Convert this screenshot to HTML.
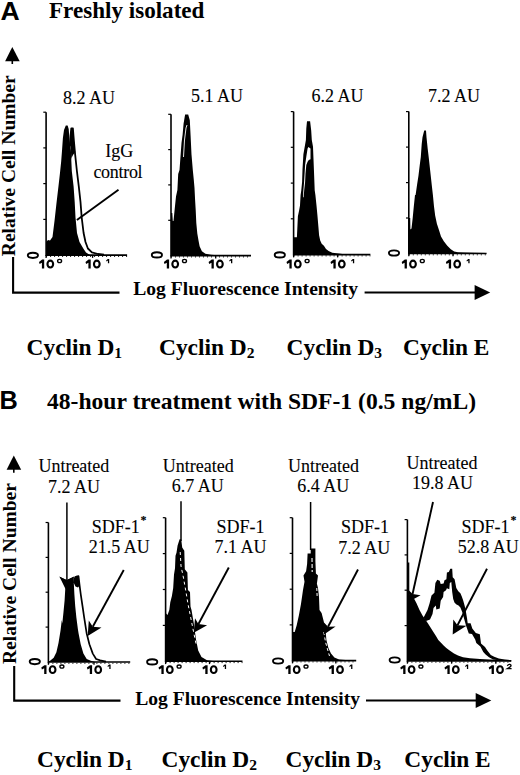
<!DOCTYPE html>
<html><head><meta charset="utf-8"><title>Figure</title>
<style>html,body{margin:0;padding:0;background:#fff;}svg{display:block;}</style>
</head><body>
<svg width="520" height="775" viewBox="0 0 520 775">
<rect width="520" height="775" fill="#fff"/>
<text x="0.6" y="19.9" font-family='"Liberation Sans", sans-serif' font-weight="bold" font-size="26.6">A</text>
<text x="49" y="18" font-family='"Liberation Serif", serif' font-weight="bold" font-size="23.1">Freshly isolated</text>
<text x="-0.6" y="409.4" font-family='"Liberation Sans", sans-serif' font-weight="bold" font-size="25.3">B</text>
<text x="47" y="408.8" font-family='"Liberation Serif", serif' font-weight="bold" font-size="23.6">48-hour treatment with SDF-1 (0.5 ng/mL)</text>
<polygon points="5.1,61.3 12.3,47.1 19.7,61.3" fill="#000"/>
<line x1="12.3" y1="60.3" x2="12.3" y2="64" stroke="#000" stroke-width="1.6"/>
<polyline points="13.1,257.0 13.1,292.6 119.5,292.6" fill="none" stroke="#000" stroke-width="2.1"/>
<line x1="364.6" y1="292.6" x2="476.2" y2="292.6" stroke="#000" stroke-width="2"/>
<polygon points="474.6,285.1 490.2,292.6 474.6,299.9" fill="#000"/>
<text x="133.2" y="295" font-family='"Liberation Serif", serif' font-weight="bold" font-size="19.6">Log Fluorescence Intensity</text>
<text transform="translate(14.9,256.2) rotate(-90)" x="0" y="0" font-family='"Liberation Serif", serif' font-weight="bold" font-size="19.5">Relative Cell Number</text>
<polygon points="6.6,469.8 13.8,455.4 21.2,469.8" fill="#000"/>
<line x1="13.8" y1="468.8" x2="13.8" y2="472.7" stroke="#000" stroke-width="1.6"/>
<polyline points="14.2,666.0 14.2,700.6 120.5,700.6" fill="none" stroke="#000" stroke-width="2.1"/>
<line x1="366" y1="700.6" x2="477.3" y2="700.6" stroke="#000" stroke-width="2"/>
<polygon points="475.7,693.1 491.3,700.6 475.7,707.9" fill="#000"/>
<text x="135.2" y="705" font-family='"Liberation Serif", serif' font-weight="bold" font-size="19.6">Log Fluorescence Intensity</text>
<text transform="translate(16.2,664) rotate(-90)" x="0" y="0" font-family='"Liberation Serif", serif' font-weight="bold" font-size="19.5">Relative Cell Number</text>
<line x1="46.1" y1="112.2" x2="46.1" y2="255.9" stroke="#000" stroke-width="1.6"/>
<line x1="43.300000000000004" y1="112.2" x2="46.1" y2="112.2" stroke="#000" stroke-width="1.2"/>
<line x1="43.300000000000004" y1="147.9" x2="46.1" y2="147.9" stroke="#000" stroke-width="1.2"/>
<line x1="43.300000000000004" y1="183.6" x2="46.1" y2="183.6" stroke="#000" stroke-width="1.2"/>
<line x1="43.300000000000004" y1="219.4" x2="46.1" y2="219.4" stroke="#000" stroke-width="1.2"/>
<line x1="46.1" y1="255.1" x2="127.1" y2="255.1" stroke="#000" stroke-width="1.6"/>
<line x1="46.1" y1="256.4" x2="127.1" y2="256.4" stroke="#000" stroke-width="1" stroke-dasharray="1 3"/>
<ellipse cx="32.9" cy="255.35" rx="5.1" ry="2.6" fill="none" stroke="#000" stroke-width="1.9"/>
<line x1="46.1" y1="255.1" x2="46.1" y2="257.9" stroke="#000" stroke-width="1.3"/>
<g transform="translate(39.0,259.6)"><polygon points="0,2.3 3.1,0 5.2,0 5.2,8.9 2.9,8.9 2.9,3.1 0.6,4.3" fill="#000"/><ellipse cx="11.3" cy="4.45" rx="2.85" ry="3.4" fill="none" stroke="#000" stroke-width="2.1"/><ellipse cx="20.6" cy="1.35" rx="2.0" ry="1.6" fill="none" stroke="#000" stroke-width="1.35"/></g>
<line x1="92.6" y1="255.1" x2="92.6" y2="257.9" stroke="#000" stroke-width="1.3"/>
<g transform="translate(85.5,259.6)"><polygon points="0,2.3 3.1,0 5.2,0 5.2,8.9 2.9,8.9 2.9,3.1 0.6,4.3" fill="#000"/><ellipse cx="11.3" cy="4.45" rx="2.85" ry="3.4" fill="none" stroke="#000" stroke-width="2.1"/><polygon points="20.6,0.9 22.3,-0.6 23.7,-0.6 23.7,3.7 22.4,3.7 22.4,0.9 21.0,1.8" fill="#000"/></g>
<polygon points="46.1,255.1 46.1,242.0 48.0,240.0 50.0,240.5 52.5,237.0 54.5,221.0 56.5,203.0 58.5,186.0 60.0,172.7 61.2,161.2 62.1,149.6 62.9,138.0 64.0,130.0 65.8,125.6 67.6,125.6 68.7,129.0 69.8,144.0 70.9,150.0 71.3,160.0 71.8,171.0 73.6,186.5 74.7,202.0 75.5,217.5 77.0,233.0 79.5,242.0 83.3,248.5 86.0,252.5 90.0,255.1" fill="#000"/>
<polyline points="69.8,146.0 70.5,136.0 71.3,128.3 72.9,128.5 73.5,136.0 74.0,142.0 75.2,155.0 76.9,171.0 78.8,186.5 80.5,202.0 81.7,217.5 83.6,233.0 85.5,242.0 87.9,248.5 91.9,252.4 98.0,254.0 104.0,254.6" fill="none" stroke="#000" stroke-width="1.8" stroke-linejoin="round"/>
<polygon points="69.8,144.0 70.6,133.0 71.3,128.3 72.9,128.5 73.5,136.0 74.2,143.0 75.2,152.0 73.0,155.0 71.5,158.0 71.3,160.0 70.9,150.0" fill="#000"/>
<line x1="118.5" y1="189.7" x2="76.9" y2="220" stroke="#000" stroke-width="1.9"/>
<line x1="171.0" y1="114.3" x2="171.0" y2="256.4" stroke="#000" stroke-width="1.6"/>
<line x1="168.2" y1="114.3" x2="171.0" y2="114.3" stroke="#000" stroke-width="1.2"/>
<line x1="168.2" y1="149.6" x2="171.0" y2="149.6" stroke="#000" stroke-width="1.2"/>
<line x1="168.2" y1="184.9" x2="171.0" y2="184.9" stroke="#000" stroke-width="1.2"/>
<line x1="168.2" y1="220.3" x2="171.0" y2="220.3" stroke="#000" stroke-width="1.2"/>
<line x1="171.0" y1="255.6" x2="251" y2="255.6" stroke="#000" stroke-width="1.6"/>
<line x1="171.0" y1="256.9" x2="251" y2="256.9" stroke="#000" stroke-width="1" stroke-dasharray="1 3"/>
<ellipse cx="156.9" cy="254.9" rx="5.1" ry="2.6" fill="none" stroke="#000" stroke-width="1.9"/>
<line x1="171.0" y1="255.6" x2="171.0" y2="258.4" stroke="#000" stroke-width="1.3"/>
<g transform="translate(163.9,259.6)"><polygon points="0,2.3 3.1,0 5.2,0 5.2,8.9 2.9,8.9 2.9,3.1 0.6,4.3" fill="#000"/><ellipse cx="11.3" cy="4.45" rx="2.85" ry="3.4" fill="none" stroke="#000" stroke-width="2.1"/><ellipse cx="20.6" cy="1.35" rx="2.0" ry="1.6" fill="none" stroke="#000" stroke-width="1.35"/></g>
<line x1="215.7" y1="255.6" x2="215.7" y2="258.4" stroke="#000" stroke-width="1.3"/>
<g transform="translate(208.6,259.6)"><polygon points="0,2.3 3.1,0 5.2,0 5.2,8.9 2.9,8.9 2.9,3.1 0.6,4.3" fill="#000"/><ellipse cx="11.3" cy="4.45" rx="2.85" ry="3.4" fill="none" stroke="#000" stroke-width="2.1"/><polygon points="20.6,0.9 22.3,-0.6 23.7,-0.6 23.7,3.7 22.4,3.7 22.4,0.9 21.0,1.8" fill="#000"/></g>
<polygon points="171.0,255.6 171.0,213.0 172.3,213.0 172.8,221.0 173.5,221.0 174.8,208.0 176.0,196.5 177.4,190.0 178.2,174.0 179.5,170.0 180.5,156.5 181.5,143.0 182.6,134.8 183.6,123.4 185.1,114.6 188.2,114.6 189.8,120.3 190.6,135.8 191.5,154.4 192.8,170.0 193.8,180.0 194.5,188.0 195.1,200.0 195.7,210.0 196.3,223.0 197.3,233.5 198.5,240.4 199.6,246.2 201.9,251.3 205.4,253.7 211.2,254.8 217.0,255.2 217.0,255.6" fill="#000"/>
<polyline points="183.5,157.0 184.5,140.0 186.0,128.0 187.0,125.0" fill="none" stroke="#fff" stroke-width="0.9" stroke-linejoin="round"/>
<line x1="293.6" y1="111.6" x2="293.6" y2="255.4" stroke="#000" stroke-width="1.6"/>
<line x1="290.8" y1="111.6" x2="293.6" y2="111.6" stroke="#000" stroke-width="1.2"/>
<line x1="290.8" y1="147.3" x2="293.6" y2="147.3" stroke="#000" stroke-width="1.2"/>
<line x1="290.8" y1="183.1" x2="293.6" y2="183.1" stroke="#000" stroke-width="1.2"/>
<line x1="290.8" y1="218.8" x2="293.6" y2="218.8" stroke="#000" stroke-width="1.2"/>
<line x1="293.6" y1="254.6" x2="370.4" y2="254.6" stroke="#000" stroke-width="1.6"/>
<line x1="293.6" y1="255.9" x2="370.4" y2="255.9" stroke="#000" stroke-width="1" stroke-dasharray="1 3"/>
<ellipse cx="279.8" cy="254.9" rx="5.1" ry="2.6" fill="none" stroke="#000" stroke-width="1.9"/>
<line x1="293.6" y1="254.6" x2="293.6" y2="257.4" stroke="#000" stroke-width="1.3"/>
<g transform="translate(286.5,259.6)"><polygon points="0,2.3 3.1,0 5.2,0 5.2,8.9 2.9,8.9 2.9,3.1 0.6,4.3" fill="#000"/><ellipse cx="11.3" cy="4.45" rx="2.85" ry="3.4" fill="none" stroke="#000" stroke-width="2.1"/><ellipse cx="20.6" cy="1.35" rx="2.0" ry="1.6" fill="none" stroke="#000" stroke-width="1.35"/></g>
<line x1="337.6" y1="254.6" x2="337.6" y2="257.4" stroke="#000" stroke-width="1.3"/>
<g transform="translate(330.5,259.6)"><polygon points="0,2.3 3.1,0 5.2,0 5.2,8.9 2.9,8.9 2.9,3.1 0.6,4.3" fill="#000"/><ellipse cx="11.3" cy="4.45" rx="2.85" ry="3.4" fill="none" stroke="#000" stroke-width="2.1"/><polygon points="20.6,0.9 22.3,-0.6 23.7,-0.6 23.7,3.7 22.4,3.7 22.4,0.9 21.0,1.8" fill="#000"/></g>
<polygon points="293.6,254.6 293.6,237.3 295.8,237.3 296.9,237.3 297.4,226.7 297.9,216.2 299.0,210.9 300.0,205.6 300.6,195.0 301.3,190.3 302.1,181.9 302.5,169.3 303.4,154.2 305.9,140.0 306.3,128.4 307.0,121.2 310.1,121.2 311.2,130.5 311.8,140.0 313.0,146.7 313.9,169.3 314.7,190.3 315.4,195.0 316.5,205.6 317.5,216.2 318.4,226.7 319.1,235.2 320.2,240.5 321.7,243.7 323.9,245.8 326.0,249.0 328.6,251.1 332.3,252.7 336.6,253.2 340.8,253.7 345.0,254.6" fill="#000"/>
<polygon points="308.4,147.1 310.5,148.4 310.5,159.3 308.8,160.1 307.6,161.8 306.3,165.1 305.5,173.5 305.1,181.9 304.2,190.3 303.6,197.5 303.0,197.0 303.4,190.3 304.1,181.9 304.6,173.5 305.1,165.1 306.3,156.8 307.6,148.4" fill="#fff"/>
<line x1="408.8" y1="111.6" x2="408.8" y2="254.3" stroke="#000" stroke-width="1.6"/>
<line x1="406.0" y1="111.6" x2="408.8" y2="111.6" stroke="#000" stroke-width="1.2"/>
<line x1="406.0" y1="147.1" x2="408.8" y2="147.1" stroke="#000" stroke-width="1.2"/>
<line x1="406.0" y1="182.6" x2="408.8" y2="182.6" stroke="#000" stroke-width="1.2"/>
<line x1="406.0" y1="218.0" x2="408.8" y2="218.0" stroke="#000" stroke-width="1.2"/>
<line x1="408.8" y1="253.5" x2="486.6" y2="253.5" stroke="#000" stroke-width="1.6"/>
<line x1="408.8" y1="254.8" x2="486.6" y2="254.8" stroke="#000" stroke-width="1" stroke-dasharray="1 3"/>
<ellipse cx="394" cy="253" rx="5.1" ry="2.6" fill="none" stroke="#000" stroke-width="1.9"/>
<line x1="408.8" y1="253.5" x2="408.8" y2="256.3" stroke="#000" stroke-width="1.3"/>
<g transform="translate(401.7,259.6)"><polygon points="0,2.3 3.1,0 5.2,0 5.2,8.9 2.9,8.9 2.9,3.1 0.6,4.3" fill="#000"/><ellipse cx="11.3" cy="4.45" rx="2.85" ry="3.4" fill="none" stroke="#000" stroke-width="2.1"/><ellipse cx="20.6" cy="1.35" rx="2.0" ry="1.6" fill="none" stroke="#000" stroke-width="1.35"/></g>
<line x1="453.0" y1="253.5" x2="453.0" y2="256.3" stroke="#000" stroke-width="1.3"/>
<g transform="translate(445.9,259.6)"><polygon points="0,2.3 3.1,0 5.2,0 5.2,8.9 2.9,8.9 2.9,3.1 0.6,4.3" fill="#000"/><ellipse cx="11.3" cy="4.45" rx="2.85" ry="3.4" fill="none" stroke="#000" stroke-width="2.1"/><polygon points="20.6,0.9 22.3,-0.6 23.7,-0.6 23.7,3.7 22.4,3.7 22.4,0.9 21.0,1.8" fill="#000"/></g>
<polygon points="408.8,253.5 408.8,218.0 410.2,218.0 410.4,229.6 411.5,228.5 412.7,218.0 413.8,206.5 415.0,195.0 415.6,195.0 417.1,184.6 418.5,175.4 419.6,166.2 420.8,157.0 421.7,144.2 422.5,137.3 424.2,130.4 426.0,130.4 426.5,137.3 427.7,148.8 428.8,158.0 430.2,170.8 431.7,184.6 432.9,195.0 434.0,206.5 435.2,215.8 436.9,223.8 439.2,230.8 441.0,236.5 443.8,241.2 447.3,245.8 450.8,249.2 454.2,251.5 458.0,252.3 465.0,252.6 475.0,252.8 486.6,253.0" fill="#000"/>
<text x="63.0" y="103.9" font-family='"Liberation Serif", serif' font-size="18" stroke="#000" stroke-width="0.1">8.2 AU</text>
<text x="191.0" y="102.0" font-family='"Liberation Serif", serif' font-size="18" stroke="#000" stroke-width="0.1">5.1 AU</text>
<text x="311.5" y="101.7" font-family='"Liberation Serif", serif' font-size="18" stroke="#000" stroke-width="0.1">6.2 AU</text>
<text x="428.0" y="101.7" font-family='"Liberation Serif", serif' font-size="18" stroke="#000" stroke-width="0.1">7.2 AU</text>
<text x="105.3" y="157.3" font-family='"Liberation Serif", serif' font-size="18" stroke="#000" stroke-width="0.1">IgG</text>
<text x="93.4" y="177.5" font-family='"Liberation Serif", serif' font-size="18" stroke="#000" stroke-width="0.1" letter-spacing="-0.3">control</text>
<text x="26.6" y="355.3" font-family='"Liberation Serif", serif' font-weight="bold" font-size="23.4">Cyclin D<tspan font-size="15.5" dy="2.4">1</tspan></text>
<text x="159" y="355.3" font-family='"Liberation Serif", serif' font-weight="bold" font-size="23.4">Cyclin D<tspan font-size="15.5" dy="2.4">2</tspan></text>
<text x="286.6" y="355.3" font-family='"Liberation Serif", serif' font-weight="bold" font-size="23.4">Cyclin D<tspan font-size="15.5" dy="2.4">3</tspan></text>
<text x="403" y="355.3" font-family='"Liberation Serif", serif' font-weight="bold" font-size="23.4">Cyclin E</text>
<line x1="48.4" y1="522.5" x2="48.4" y2="662.8" stroke="#000" stroke-width="1.6"/>
<line x1="45.6" y1="522.5" x2="48.4" y2="522.5" stroke="#000" stroke-width="1.2"/>
<line x1="45.6" y1="557.4" x2="48.4" y2="557.4" stroke="#000" stroke-width="1.2"/>
<line x1="45.6" y1="592.2" x2="48.4" y2="592.2" stroke="#000" stroke-width="1.2"/>
<line x1="45.6" y1="627.1" x2="48.4" y2="627.1" stroke="#000" stroke-width="1.2"/>
<line x1="48.4" y1="662.0" x2="130.2" y2="662.0" stroke="#000" stroke-width="1.6"/>
<line x1="48.4" y1="663.3" x2="130.2" y2="663.3" stroke="#000" stroke-width="1" stroke-dasharray="1 3"/>
<ellipse cx="34.8" cy="661.6" rx="5.1" ry="2.6" fill="none" stroke="#000" stroke-width="1.9"/>
<line x1="48.4" y1="662.0" x2="48.4" y2="664.8" stroke="#000" stroke-width="1.3"/>
<g transform="translate(41.3,665.2)"><polygon points="0,2.3 3.1,0 5.2,0 5.2,8.9 2.9,8.9 2.9,3.1 0.6,4.3" fill="#000"/><ellipse cx="11.3" cy="4.45" rx="2.85" ry="3.4" fill="none" stroke="#000" stroke-width="2.1"/><ellipse cx="20.6" cy="1.35" rx="2.0" ry="1.6" fill="none" stroke="#000" stroke-width="1.35"/></g>
<line x1="94.0" y1="662.0" x2="94.0" y2="664.8" stroke="#000" stroke-width="1.3"/>
<g transform="translate(86.9,665.2)"><polygon points="0,2.3 3.1,0 5.2,0 5.2,8.9 2.9,8.9 2.9,3.1 0.6,4.3" fill="#000"/><ellipse cx="11.3" cy="4.45" rx="2.85" ry="3.4" fill="none" stroke="#000" stroke-width="2.1"/><polygon points="20.6,0.9 22.3,-0.6 23.7,-0.6 23.7,3.7 22.4,3.7 22.4,0.9 21.0,1.8" fill="#000"/></g>
<polygon points="48.4,662.0 50.4,660.4 53.7,657.7 56.4,652.3 58.5,642.9 60.5,630.8 61.8,620.0 62.3,623.5 63.5,612.0 64.6,600.4 65.2,590.0 66.0,585.0 59.4,576.7 66.7,580.0 73.8,576.7 73.8,583.0 74.4,594.6 75.2,606.0 76.4,617.7 77.9,629.2 78.6,633.5 80.7,644.2 83.4,653.6 86.7,659.0 90.8,660.8 95.0,662.0" fill="#000"/>
<polyline points="73.8,583.0 75.2,577.0 78.5,576.2 79.6,585.4 80.8,594.6 82.5,606.0 84.2,617.7 86.0,629.2 86.7,633.5 89.4,644.2 92.8,653.6 96.1,659.0 100.2,660.4 106.0,661.6" fill="none" stroke="#000" stroke-width="1.7" stroke-linejoin="round"/>
<line x1="66.9" y1="502.5" x2="66.9" y2="581" stroke="#000" stroke-width="1.5"/>
<polygon points="59.4,576.4 66.8,580.3 74.0,576.4 67.6,590.0 66.0,590.0" fill="#000"/>
<polygon points="73.8,583.0 75.2,577.0 76.5,575.8 78.5,576.0 79.8,585.4 78.0,587.5 75.5,586.5" fill="#000"/>
<line x1="123.75" y1="570" x2="92.77023415608681" y2="626.7174631261656" stroke="#000" stroke-width="1.9"/>
<polygon points="87.7,636.0 88.8,620.5 92.8,626.7 101.5,627.5" fill="#000"/>
<text x="38.4" y="472.1" font-family='"Liberation Serif", serif' font-size="18" stroke="#000" stroke-width="0.1">Untreated</text>
<text x="48.1" y="492.8" font-family='"Liberation Serif", serif' font-size="18" stroke="#000" stroke-width="0.1">7.2 AU</text>
<text x="91.8" y="533.3" font-family='"Liberation Serif", serif' font-size="18" stroke="#000" stroke-width="0.1">SDF-1<tspan font-size="12" font-weight="bold" dx="0.8" dy="-9">*</tspan></text>
<text x="88.8" y="553.3" font-family='"Liberation Serif", serif' font-size="18" stroke="#000" stroke-width="0.1">21.5 AU</text>
<line x1="165.6" y1="517.7" x2="165.6" y2="662.0999999999999" stroke="#000" stroke-width="1.6"/>
<line x1="162.79999999999998" y1="517.7" x2="165.6" y2="517.7" stroke="#000" stroke-width="1.2"/>
<line x1="162.79999999999998" y1="553.6" x2="165.6" y2="553.6" stroke="#000" stroke-width="1.2"/>
<line x1="162.79999999999998" y1="589.5" x2="165.6" y2="589.5" stroke="#000" stroke-width="1.2"/>
<line x1="162.79999999999998" y1="625.4" x2="165.6" y2="625.4" stroke="#000" stroke-width="1.2"/>
<line x1="165.6" y1="661.3" x2="242.5" y2="661.3" stroke="#000" stroke-width="1.6"/>
<line x1="165.6" y1="662.5999999999999" x2="242.5" y2="662.5999999999999" stroke="#000" stroke-width="1" stroke-dasharray="1 3"/>
<ellipse cx="152.2" cy="661.9" rx="5.1" ry="2.6" fill="none" stroke="#000" stroke-width="1.9"/>
<line x1="165.6" y1="661.3" x2="165.6" y2="664.0999999999999" stroke="#000" stroke-width="1.3"/>
<g transform="translate(158.5,665.2)"><polygon points="0,2.3 3.1,0 5.2,0 5.2,8.9 2.9,8.9 2.9,3.1 0.6,4.3" fill="#000"/><ellipse cx="11.3" cy="4.45" rx="2.85" ry="3.4" fill="none" stroke="#000" stroke-width="2.1"/><ellipse cx="20.6" cy="1.35" rx="2.0" ry="1.6" fill="none" stroke="#000" stroke-width="1.35"/></g>
<line x1="209.5" y1="661.3" x2="209.5" y2="664.0999999999999" stroke="#000" stroke-width="1.3"/>
<g transform="translate(202.4,665.2)"><polygon points="0,2.3 3.1,0 5.2,0 5.2,8.9 2.9,8.9 2.9,3.1 0.6,4.3" fill="#000"/><ellipse cx="11.3" cy="4.45" rx="2.85" ry="3.4" fill="none" stroke="#000" stroke-width="2.1"/><polygon points="20.6,0.9 22.3,-0.6 23.7,-0.6 23.7,3.7 22.4,3.7 22.4,0.9 21.0,1.8" fill="#000"/></g>
<polygon points="165.6,661.3 165.6,613.0 167.5,615.0 169.3,610.0 170.3,602.3 171.9,596.1 173.2,587.9 174.0,574.4 175.0,568.2 175.5,555.8 176.5,552.7 177.6,545.5 179.6,539.3 181.2,539.3 182.2,547.6 184.3,550.7 184.8,569.3 187.4,572.4 187.9,589.9 190.0,592.0 190.5,606.4 191.5,610.0 193.9,624.0 196.0,639.4 198.2,650.4 201.5,657.0 207.0,660.2 215.0,661.3" fill="#000"/>
<line x1="181" y1="501.3" x2="181" y2="541" stroke="#000" stroke-width="1.5"/>
<polyline points="180.2,552 181,566 183.5,578 186,592 188,604 190,614 192,624 194,634 196.3,645" fill="none" stroke="#fff" stroke-width="1" stroke-dasharray="3 3"/>
<line x1="228.8" y1="567.5" x2="198.43872844245115" y2="624.0587115872054" stroke="#000" stroke-width="1.9"/>
<polygon points="193.8,632.7 195.0,618.3 198.4,624.1 207.1,625.2" fill="#000"/>
<text x="162.8" y="471.5" font-family='"Liberation Serif", serif' font-size="18" stroke="#000" stroke-width="0.1">Untreated</text>
<text x="171.8" y="492.1" font-family='"Liberation Serif", serif' font-size="18" stroke="#000" stroke-width="0.1">6.7 AU</text>
<text x="216.6" y="532.8" font-family='"Liberation Serif", serif' font-size="18" stroke="#000" stroke-width="0.1">SDF-1</text>
<text x="214.4" y="553.3" font-family='"Liberation Serif", serif' font-size="18" stroke="#000" stroke-width="0.1">7.1 AU</text>
<line x1="292.5" y1="517.7" x2="292.5" y2="661.4" stroke="#000" stroke-width="1.6"/>
<line x1="289.7" y1="517.7" x2="292.5" y2="517.7" stroke="#000" stroke-width="1.2"/>
<line x1="289.7" y1="553.4" x2="292.5" y2="553.4" stroke="#000" stroke-width="1.2"/>
<line x1="289.7" y1="589.2" x2="292.5" y2="589.2" stroke="#000" stroke-width="1.2"/>
<line x1="289.7" y1="624.9" x2="292.5" y2="624.9" stroke="#000" stroke-width="1.2"/>
<line x1="292.5" y1="660.6" x2="356.2" y2="660.6" stroke="#000" stroke-width="1.6"/>
<line x1="292.5" y1="661.9" x2="356.2" y2="661.9" stroke="#000" stroke-width="1" stroke-dasharray="1 3"/>
<ellipse cx="278.1" cy="661" rx="5.1" ry="2.6" fill="none" stroke="#000" stroke-width="1.9"/>
<line x1="292.5" y1="660.6" x2="292.5" y2="663.4" stroke="#000" stroke-width="1.3"/>
<g transform="translate(285.4,665.2)"><polygon points="0,2.3 3.1,0 5.2,0 5.2,8.9 2.9,8.9 2.9,3.1 0.6,4.3" fill="#000"/><ellipse cx="11.3" cy="4.45" rx="2.85" ry="3.4" fill="none" stroke="#000" stroke-width="2.1"/><ellipse cx="20.6" cy="1.35" rx="2.0" ry="1.6" fill="none" stroke="#000" stroke-width="1.35"/></g>
<line x1="335.8" y1="660.6" x2="335.8" y2="663.4" stroke="#000" stroke-width="1.3"/>
<g transform="translate(328.7,665.2)"><polygon points="0,2.3 3.1,0 5.2,0 5.2,8.9 2.9,8.9 2.9,3.1 0.6,4.3" fill="#000"/><ellipse cx="11.3" cy="4.45" rx="2.85" ry="3.4" fill="none" stroke="#000" stroke-width="2.1"/><polygon points="20.6,0.9 22.3,-0.6 23.7,-0.6 23.7,3.7 22.4,3.7 22.4,0.9 21.0,1.8" fill="#000"/></g>
<polygon points="292.5,660.6 292.5,632.0 294.7,631.9 296.7,625.2 298.8,615.8 300.8,605.0 300.9,604.4 302.0,597.1 303.0,589.9 304.5,581.7 303.5,575.5 306.1,571.3 307.1,564.1 307.6,553.6 310.7,553.6 310.7,548.4 315.4,548.4 315.4,561.0 315.9,573.4 318.0,575.5 316.9,583.7 318.0,587.9 319.0,597.1 319.5,610.0 321.6,613.0 323.7,621.2 325.7,632.0 326.4,640.0 328.4,648.0 331.0,653.5 334.4,657.5 339.1,659.5 348.6,660.2 350.0,660.6" fill="#000"/>
<line x1="310.6" y1="502" x2="310.6" y2="550" stroke="#000" stroke-width="1.5"/>
<polyline points="312,558 312.2,572" fill="none" stroke="#fff" stroke-width="1.1" stroke-dasharray="4 2"/>
<polyline points="316.8,588 317.2,598" fill="none" stroke="#fff" stroke-width="1" stroke-dasharray="3 2"/>
<polyline points="323.8,632 325.5,642 328,651 329.5,656" fill="none" stroke="#fff" stroke-width="1" stroke-dasharray="3 2.5"/>
<line x1="358" y1="569.5" x2="328.0361178219662" y2="626.7838923991823" stroke="#000" stroke-width="1.9"/>
<polygon points="324.0,634.5 323.5,622.0 328.0,626.8 335.6,626.6" fill="#000"/>
<text x="288.1" y="471.5" font-family='"Liberation Serif", serif' font-size="18" stroke="#000" stroke-width="0.1">Untreated</text>
<text x="297.3" y="492.1" font-family='"Liberation Serif", serif' font-size="18" stroke="#000" stroke-width="0.1">6.4 AU</text>
<text x="341.0" y="533.3" font-family='"Liberation Serif", serif' font-size="18" stroke="#000" stroke-width="0.1">SDF-1</text>
<text x="338.3" y="553.8" font-family='"Liberation Serif", serif' font-size="18" stroke="#000" stroke-width="0.1">7.2 AU</text>
<line x1="407.4" y1="519.6" x2="407.4" y2="661.6999999999999" stroke="#000" stroke-width="1.6"/>
<line x1="404.59999999999997" y1="519.6" x2="407.4" y2="519.6" stroke="#000" stroke-width="1.2"/>
<line x1="404.59999999999997" y1="554.9" x2="407.4" y2="554.9" stroke="#000" stroke-width="1.2"/>
<line x1="404.59999999999997" y1="590.2" x2="407.4" y2="590.2" stroke="#000" stroke-width="1.2"/>
<line x1="404.59999999999997" y1="625.6" x2="407.4" y2="625.6" stroke="#000" stroke-width="1.2"/>
<line x1="407.4" y1="660.9" x2="511" y2="660.9" stroke="#000" stroke-width="1.6"/>
<line x1="407.4" y1="662.1999999999999" x2="511" y2="662.1999999999999" stroke="#000" stroke-width="1" stroke-dasharray="1 3"/>
<ellipse cx="394.7" cy="660" rx="5.1" ry="2.6" fill="none" stroke="#000" stroke-width="1.9"/>
<line x1="407.4" y1="660.9" x2="407.4" y2="663.6999999999999" stroke="#000" stroke-width="1.3"/>
<g transform="translate(400.3,665.2)"><polygon points="0,2.3 3.1,0 5.2,0 5.2,8.9 2.9,8.9 2.9,3.1 0.6,4.3" fill="#000"/><ellipse cx="11.3" cy="4.45" rx="2.85" ry="3.4" fill="none" stroke="#000" stroke-width="2.1"/><ellipse cx="20.6" cy="1.35" rx="2.0" ry="1.6" fill="none" stroke="#000" stroke-width="1.35"/></g>
<line x1="451.6" y1="660.9" x2="451.6" y2="663.6999999999999" stroke="#000" stroke-width="1.3"/>
<g transform="translate(444.5,665.2)"><polygon points="0,2.3 3.1,0 5.2,0 5.2,8.9 2.9,8.9 2.9,3.1 0.6,4.3" fill="#000"/><ellipse cx="11.3" cy="4.45" rx="2.85" ry="3.4" fill="none" stroke="#000" stroke-width="2.1"/><polygon points="20.6,0.9 22.3,-0.6 23.7,-0.6 23.7,3.7 22.4,3.7 22.4,0.9 21.0,1.8" fill="#000"/></g>
<line x1="495.8" y1="660.9" x2="495.8" y2="663.6999999999999" stroke="#000" stroke-width="1.3"/>
<g transform="translate(488.7,665.2)"><polygon points="0,2.3 3.1,0 5.2,0 5.2,8.9 2.9,8.9 2.9,3.1 0.6,4.3" fill="#000"/><ellipse cx="11.3" cy="4.45" rx="2.85" ry="3.4" fill="none" stroke="#000" stroke-width="2.1"/><path d="M18.6,0.6 Q19.6,-1.1 21.2,-0.8 Q22.8,-0.3 22.1,1.1 Q21.3,2.0 18.8,3.4 L22.9,3.4" fill="none" stroke="#000" stroke-width="1.3"/></g>
<polygon points="407.4,660.9 407.4,562.5 409.3,562.5 409.3,593.8 411.1,595.9 414.0,598.5 416.5,603.3 419.5,610.1 422.5,615.5 425.3,619.6 428.0,623.6 430.7,627.7 433.2,631.8 435.8,635.8 438.3,639.9 441.0,642.8 443.6,645.5 446.3,648.0 450.0,650.7 454.0,653.4 458.0,655.5 463.0,657.3 470.0,658.2 480.0,658.9 490.0,659.5 500.0,659.8 510.0,660.0 510.0,660.9" fill="#000"/>
<polygon points="423.5,617.7 427.5,610.0 429.6,603.3 431.5,595.6 434.4,592.7 435.4,583.0 437.3,579.7 439.7,580.7 440.7,584.0 443.6,583.6 444.5,580.2 446.4,579.2 446.9,572.5 448.8,572.0 450.3,568.7 452.2,568.7 452.7,577.3 454.6,579.2 456.3,588.0 458.3,591.2 460.4,593.2 461.8,596.5 463.2,600.4 464.8,606.2 465.6,610.0 467.0,618.0 467.7,623.3 470.6,623.3 472.3,628.5 475.8,633.1 479.8,634.2 481.0,643.5 485.0,647.0 487.3,650.4 490.8,655.0 494.2,656.7 498.8,658.5 504.6,659.6 511.5,660.2 511.5,661.4 504.0,661.0 493.1,659.4 489.0,657.3 485.6,654.5 483.3,652.0 480.4,646.5 476.3,643.0 475.2,639.5 472.0,634.0 468.8,633.5 466.0,625.5 462.3,612.3 460.4,607.5 458.5,605.6 456.5,604.6 454.6,602.7 453.2,598.9 452.2,592.0 451.3,582.0 449.8,583.0 449.3,589.2 446.9,588.3 446.0,590.2 443.6,592.0 443.1,596.9 440.7,600.8 439.7,608.4 436.3,609.4 435.9,605.6 433.5,608.0 432.5,614.0 430.0,619.5 426.0,621.0" fill="#000"/>
<line x1="433" y1="502" x2="412.5533968423488" y2="594.0563959517996" stroke="#000" stroke-width="1.9"/>
<polygon points="411.1,600.6 407.5,589.0 412.6,594.1 420.6,595.2" fill="#000"/>
<line x1="487" y1="568.7" x2="457.48731207832543" y2="625.2301340074058" stroke="#000" stroke-width="1.9"/>
<polygon points="452.7,634.4 453.3,619.4 457.5,625.2 466.5,625.8" fill="#000"/>
<text x="406.6" y="468.8" font-family='"Liberation Serif", serif' font-size="18" stroke="#000" stroke-width="0.1">Untreated</text>
<text x="412.0" y="488.8" font-family='"Liberation Serif", serif' font-size="18" stroke="#000" stroke-width="0.1">19.8 AU</text>
<text x="461.6" y="533.3" font-family='"Liberation Serif", serif' font-size="18" stroke="#000" stroke-width="0.1">SDF-1<tspan font-size="12" font-weight="bold" dx="0.8" dy="-9">*</tspan></text>
<text x="457.8" y="553.3" font-family='"Liberation Serif", serif' font-size="18" stroke="#000" stroke-width="0.1">52.8 AU</text>
<text x="37" y="767.4" font-family='"Liberation Serif", serif' font-weight="bold" font-size="23.4">Cyclin D<tspan font-size="15.5" dy="2.4">1</tspan></text>
<text x="161.5" y="767.4" font-family='"Liberation Serif", serif' font-weight="bold" font-size="23.4">Cyclin D<tspan font-size="15.5" dy="2.4">2</tspan></text>
<text x="285.5" y="767.4" font-family='"Liberation Serif", serif' font-weight="bold" font-size="23.4">Cyclin D<tspan font-size="15.5" dy="2.4">3</tspan></text>
<text x="404.3" y="767.2" font-family='"Liberation Serif", serif' font-weight="bold" font-size="23.4">Cyclin E</text>
</svg>
</body></html>
